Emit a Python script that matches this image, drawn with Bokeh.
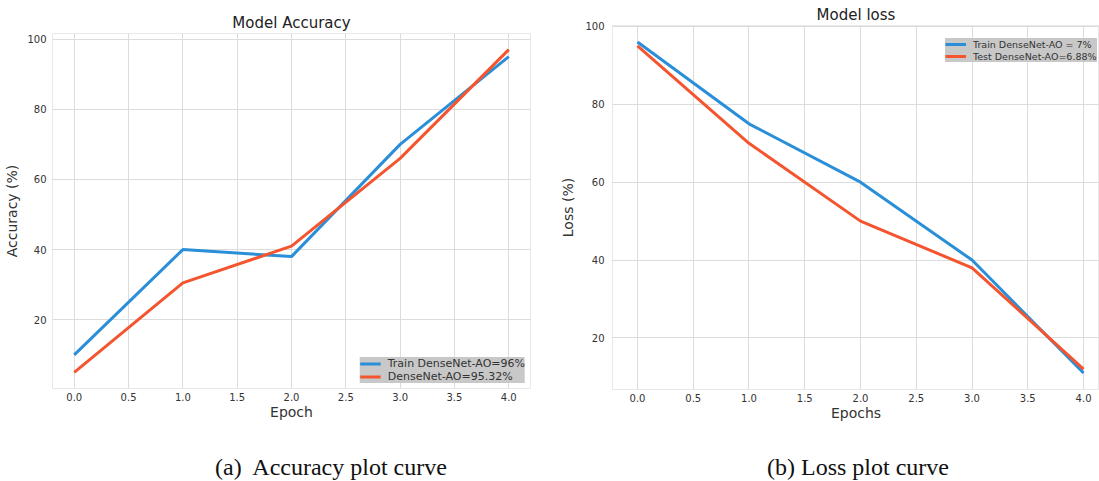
from bokeh.plotting import figure
from bokeh.layouts import row, column
from bokeh.models import FixedTicker, NumeralTickFormatter, Range1d, Legend, LegendItem, Div
from bokeh.embed import file_html
from bokeh.resources import INLINE

epochs = [0, 1, 2, 3, 4]
acc_train = [10, 40, 38, 70, 95]
acc_test = [5, 30.5, 41, 66, 97]
loss_train = [96, 75, 60, 40, 11]
loss_test = [95, 70, 50, 38, 12]

x_ticks = [0, 0.5, 1, 1.5, 2, 2.5, 3, 3.5, 4]
y_ticks = [20, 40, 60, 80, 100]

BLUE = "#2a8fd8"
RED = "#f4552f"
FONT = "DejaVu Sans"
GRID = "#dcdcdc"
TXT = "#333333"
FIG_H = 445


def make_panel(title, xlabel, ylabel, yr, xr, width, mb_left, mb_right, mb_top, mb_bottom,
               title_standoff, y_lab_standoff, y_axlab_standoff,
               s1, s2, l1, l2, legend_loc, leg_font, leg_row):
    p = figure(width=width, height=FIG_H, output_backend="svg", toolbar_location=None,
               x_range=Range1d(*xr), y_range=Range1d(*yr),
               min_border_left=mb_left, min_border_right=mb_right,
               min_border_top=mb_top, min_border_bottom=mb_bottom)
    p.title.text = title
    p.title.align = "center"
    p.title.text_font = FONT
    p.title.text_font_size = "15px"
    p.title.text_font_style = "normal"
    p.title.text_color = "#222222"
    p.title.standoff = title_standoff

    r1 = p.line(epochs, s1, line_color=BLUE, line_width=3)
    r2 = p.line(epochs, s2, line_color=RED, line_width=3)

    p.xaxis.ticker = FixedTicker(ticks=x_ticks)
    p.xaxis.formatter = NumeralTickFormatter(format="0.0")
    p.yaxis.ticker = FixedTicker(ticks=y_ticks)
    for ax in (p.xaxis[0], p.yaxis[0]):
        ax.axis_line_color = None
        ax.major_tick_line_color = None
        ax.minor_tick_line_color = None
        ax.major_tick_out = 0
        ax.major_tick_in = 0
        ax.minor_tick_out = 0
        ax.minor_tick_in = 0
        ax.major_label_text_font = FONT
        ax.major_label_text_font_size = "10px"
        ax.major_label_text_color = TXT
        ax.axis_label_text_font = FONT
        ax.axis_label_text_font_size = "14px"
        ax.axis_label_text_font_style = "normal"
        ax.axis_label_text_color = TXT
    p.xaxis.axis_label = xlabel
    p.yaxis.axis_label = ylabel
    p.xaxis.major_label_standoff = 4
    p.xaxis.axis_label_standoff = 0
    p.yaxis.major_label_standoff = y_lab_standoff
    p.yaxis.axis_label_standoff = y_axlab_standoff

    p.xgrid.grid_line_color = GRID
    p.ygrid.grid_line_color = GRID
    p.outline_line_color = "#e8e8e8"

    legend = Legend(items=[LegendItem(label=l1, renderers=[r1]),
                           LegendItem(label=l2, renderers=[r2])],
                    location=legend_loc)
    legend.background_fill_color = "#c8c8c8"
    legend.background_fill_alpha = 1.0
    legend.border_line_color = None
    legend.label_text_font = FONT
    legend.label_text_font_size = leg_font
    legend.label_text_color = TXT
    legend.glyph_width = 21
    legend.glyph_height = leg_row
    legend.label_height = leg_row
    legend.label_standoff = 7
    legend.spacing = 0
    legend.padding = 5
    legend.margin = 5
    p.add_layout(legend, "center")
    return p


def caption_div(text, width):
    return Div(text=text, width=width, height=481 - FIG_H, margin=0,
               styles={"font-family": "Liberation Serif", "font-size": "24px",
                       "line-height": "44px", "white-space": "pre", "color": "#111111",
                       "padding-left": "215px", "box-sizing": "border-box"})


p1 = make_panel("Model Accuracy", "Epoch", "Accuracy (%)",
                (0.4, 101.6), (-0.2, 4.2), 552, 52, 22, 33, 57, 4, 6, 4,
                acc_train, acc_test, "Train DenseNet-AO=96%", "DenseNet-AO=95.32%",
                "bottom_right", "11px", 13)
p2 = make_panel("Model loss", "Epochs", "Loss (%)",
                (6.75, 100.25), (-0.224, 4.143), 547, 60, 0, 25, 56, 3, 8, 6,
                loss_train, loss_test, "Train DenseNet-AO = 7%", "Test DenseNet-AO=6.88%",
                (333, 327), "9.5px", 12)

d1 = caption_div("(a)  Accuracy plot curve", 552)
d2 = caption_div("(b) Loss plot curve", 547)

layout = row(column(p1, d1), column(p2, d2))
open("out.html", "w").write(file_html(layout, INLINE))
